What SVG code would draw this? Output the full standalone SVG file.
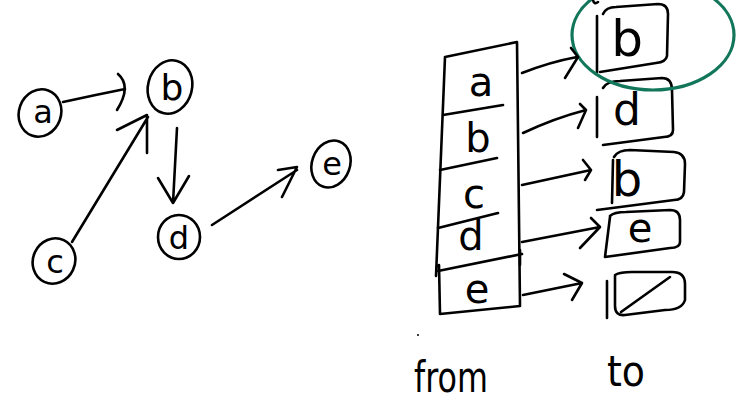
<svg xmlns="http://www.w3.org/2000/svg" width="748" height="411" viewBox="0 0 748 411">
<style>
.ink{fill:none;stroke:#000;stroke-width:2.6;stroke-linecap:round;stroke-linejoin:round}
.hand{font-family:"DejaVu Sans","Liberation Sans",sans-serif;fill:#000;text-anchor:middle}
.green{fill:none;stroke:#12765a;stroke-width:3.2}
</style>
<rect width="748" height="411" fill="#fff"/>
<g id="graph-nodes">
<g id="node-a"><ellipse class="ink" cx="40" cy="113" rx="21" ry="24" transform="rotate(20 40 113)"/><text class="hand" x="43" y="123" font-size="32">a</text></g>
<g id="node-b"><ellipse class="ink" cx="170" cy="87" rx="22" ry="27" transform="rotate(15 170 87)"/><text class="hand" x="172" y="100" font-size="36">b</text></g>
<g id="node-c"><ellipse class="ink" cx="54" cy="261" rx="21" ry="23" transform="rotate(25 54 261)"/><text class="hand" x="55" y="273" font-size="32">c</text></g>
<g id="node-d"><ellipse class="ink" cx="179" cy="237" rx="21" ry="22"/><text class="hand" x="179" y="249" font-size="32">d</text></g>
<g id="node-e"><ellipse class="ink" cx="331" cy="164" rx="19" ry="24" transform="rotate(20 331 164)"/><text class="hand" x="332" y="175" font-size="32">e</text></g>
</g>
<g id="table-from">
<path class="ink" d="M445,57 L517,42 M517,42 L520,306 M445,57 L436,276 M439,265 L440,314 L520,306"/>
<path class="ink" d="M443,115 L503,105 M440,170 L497,158 M438,228 L498,213 M438,271 L522,254 M520,250 L520,265"/>
<text class="hand" x="481" y="96" font-size="40">a</text>
<text class="hand" x="478" y="152" font-size="40">b</text>
<text class="hand" x="474" y="208" font-size="40">c</text>
<text class="hand" x="471" y="250" font-size="40">d</text>
<text class="hand" x="477" y="303" font-size="40">e</text>
</g>
<g id="box-1"><path class="ink" d="M597,16 L597,72 M603,14 Q606,7 616,7 L658,4 Q668,4 668,14 L667,56 Q666,62 656,63 L600,72"/><text class="hand" x="627" y="56" font-size="50">b</text></g>
<g id="box-2"><path class="ink" d="M597,97 L597,137 M603,88 Q607,81 620,81 L662,78 Q672,78 672,90 L673,130 Q673,137 664,137 L603,145"/><text class="hand" x="627" y="125" font-size="44">d</text></g>
<g id="box-3"><path class="ink" d="M613,160 L612,203 M614,157 Q618,150 630,150 L674,152 Q685,153 685,164 L684,192 Q683,200 674,200 L597,210"/><text class="hand" x="627" y="196" font-size="48">b</text></g>
<g id="box-4"><path class="ink" d="M610,217 L605,257 M610,216 Q614,212 626,212 L670,210 Q680,210 680,220 L680,242 Q680,248 670,248 L605,257"/><text class="hand" x="640" y="242" font-size="40">e</text></g>
<g id="box-5"><path class="ink" d="M607,281 L607,318 M615,275 Q620,272 632,272 L672,272 Q685,272 685,284 L685,300 Q682,310 665,310 L625,315 Q615,316 615,306 L615,276 M621,312 L670,277"/></g>
<g id="highlight"><ellipse class="green" cx="653" cy="35" rx="81" ry="55"/><path class="ink" d="M593,0 Q594,5 598,2" stroke-width="2"/></g>
<g id="connectors">
<path class="ink" d="M63,102 Q95,95 125,89 M118,74 Q132,86 117,110"/>
<path class="ink" d="M72,242 L148,117 M117,130 L147,115 L147,153"/>
<path class="ink" d="M177,128 L173,203 M158,178 L173,203 L189,176"/>
<path class="ink" d="M212,225 L297,170 M278,170 L297,167 L282,197"/>
<path class="ink" d="M522,73 Q550,62 577,57 M571,48 L578,57 L565,78"/>
<path class="ink" d="M523,133 Q555,118 586,110 M580,104 L586,110 L578,128"/>
<path class="ink" d="M522,185 L591,170 M583,160 L591,170 L585,180"/>
<path class="ink" d="M522,242 L600,227 M591,218 L600,227 L580,248"/>
<path class="ink" d="M523,295 L582,283 M564,274 L582,283 L572,300"/>
</g>
<g id="labels">
<circle cx="418" cy="335" r="1" fill="#000"/>
<text class="hand" x="451" y="392" font-size="42" textLength="74" lengthAdjust="spacingAndGlyphs">from</text>
<text class="hand" x="626" y="386" font-size="42" textLength="38" lengthAdjust="spacingAndGlyphs">to</text>
</g>
</svg>
